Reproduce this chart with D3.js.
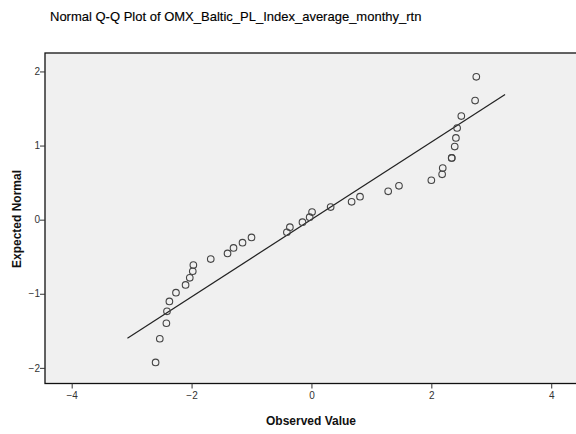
<!DOCTYPE html>
<html>
<head>
<meta charset="utf-8">
<script src="https://cdn.jsdelivr.net/npm/d3@7.9.0/dist/d3.min.js"></script>
<style>
  body { margin: 0; background: #fff; }
  text { font-family: Arial, "Liberation Sans", sans-serif; }
</style>
</head>
<body>
<svg id="chart" width="576" height="434"></svg>
<script>
// observed values (sorted) and their expected normal scores
const observed = [-2.60, -2.53, -2.42, -2.41, -2.37, -2.26, -2.10, -2.03, -1.98, -1.97,
                  -1.68, -1.40, -1.30, -1.15, -1.00, -0.41, -0.36, -0.15, -0.03, 0.01,
                  0.32, 0.67, 0.81, 1.28, 1.46, 2.00, 2.18, 2.19, 2.34, 2.34,
                  2.39, 2.41, 2.43, 2.50, 2.73, 2.75];
const expected = [-1.927, -1.607, -1.398, -1.237, -1.103, -0.986, -0.881, -0.785, -0.696, -0.612,
                  -0.532, -0.456, -0.382, -0.310, -0.240, -0.170, -0.102, -0.034, 0.034, 0.102,
                  0.170, 0.240, 0.310, 0.382, 0.456, 0.532, 0.612, 0.696, 0.833, 0.833,
                  0.986, 1.103, 1.237, 1.398, 1.607, 1.927];
// reference line end points
const lineX = [-3.07, 3.23];
const lineY = [-1.60, 1.69];
const xTicks = [-4, -2, 0, 2, 4];
const yTicks = [-2, -1, 0, 1, 2];

let svg = d3.select("#chart");
let plotLeft = 45, plotTop = 53, plotRight = 580, plotBottom = 383.5;

let x = d3.scaleLinear().domain([-4.445, 4.48]).range([plotLeft, plotRight]);
let y = d3.scaleLinear().domain([-2.211, 2.249]).range([plotBottom, plotTop]);

svg.append("text")
    .attr("x", 50).attr("y", 21)
    .attr("font-size", 13)
    .attr("fill", "#000")
    .attr("stroke", "#000").attr("stroke-width", 0.15)
    .text("Normal Q-Q Plot of OMX_Baltic_PL_Index_average_monthy_rtn");

svg.append("rect")
    .attr("x", plotLeft).attr("y", plotTop)
    .attr("width", plotRight - plotLeft).attr("height", plotBottom - plotTop)
    .attr("fill", "#f0f0f0")
    .attr("stroke", "#111").attr("stroke-width", 1.3);

// axes
let xAxis = svg.append("g")
    .attr("transform", `translate(0,${plotBottom})`)
    .call(d3.axisBottom(x).tickValues(xTicks).tickSize(5).tickSizeOuter(0).tickFormat(d3.format("d")));
let yAxis = svg.append("g")
    .attr("transform", `translate(${plotLeft},0)`)
    .call(d3.axisLeft(y).tickValues(yTicks).tickSize(5).tickSizeOuter(0).tickFormat(d3.format("d")));

[xAxis, yAxis].forEach(g => {
    g.select(".domain").remove();
    g.selectAll(".tick line").attr("stroke", "#333");
    g.selectAll(".tick text")
        .attr("font-size", 10)
        .attr("fill", "#333")
        .attr("font-family", "Arial, 'Liberation Sans', sans-serif");
});
xAxis.selectAll(".tick text").attr("dy", "0.9em").attr("y", 6);
yAxis.selectAll(".tick text").attr("x", -5);

// axis titles
svg.append("text")
    .attr("x", 311).attr("y", 425)
    .attr("text-anchor", "middle")
    .attr("font-size", 12).attr("font-weight", "bold")
    .attr("fill", "#111")
    .text("Observed Value");
svg.append("text")
    .attr("transform", "translate(21,219) rotate(-90)")
    .attr("text-anchor", "middle")
    .attr("font-size", 12).attr("font-weight", "bold")
    .attr("fill", "#111")
    .text("Expected Normal");

// reference line
svg.append("line")
    .attr("x1", x(lineX[0])).attr("y1", y(lineY[0]))
    .attr("x2", x(lineX[1])).attr("y2", y(lineY[1]))
    .attr("stroke", "#222").attr("stroke-width", 1.2);

// points
svg.append("g").selectAll("circle")
    .data(observed.map((v, i) => [v, expected[i]]))
    .join("circle")
    .attr("cx", d => x(d[0]))
    .attr("cy", d => y(d[1]))
    .attr("r", 3.3)
    .attr("fill", "none")
    .attr("stroke", "#444")
    .attr("stroke-width", 1.1);
</script>
</body>
</html>
